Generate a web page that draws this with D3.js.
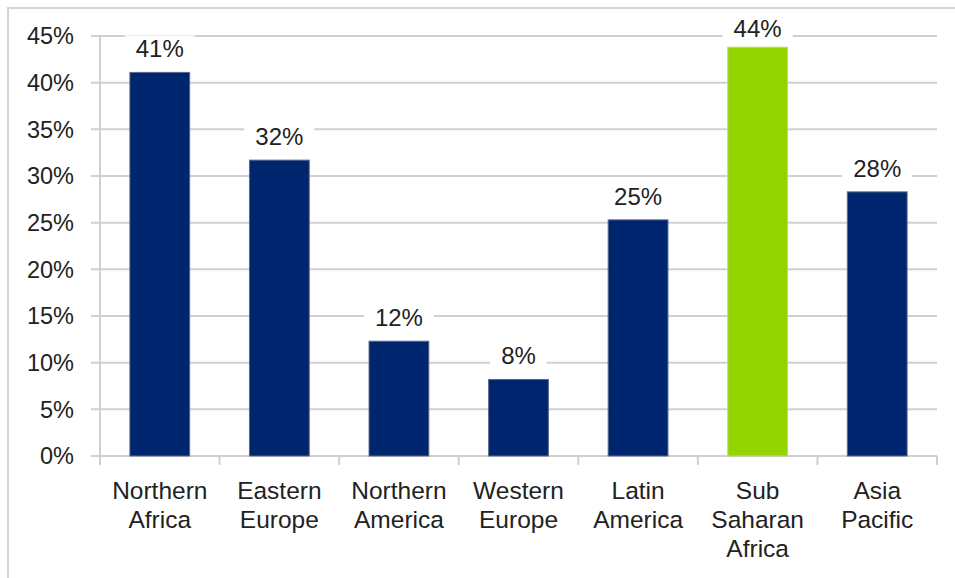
<!DOCTYPE html>
<html><head><meta charset="utf-8">
<script src="https://cdn.jsdelivr.net/npm/d3@7"></script>
<style>body{margin:0;background:#fff;} svg{display:block;font-family:"Liberation Sans",Arial,sans-serif;}</style>
</head><body>
<svg id="c" width="955" height="578"></svg>
<script>
const categories = [["Northern","Africa"],["Eastern","Europe"],["Northern","America"],["Western","Europe"],["Latin","America"],["Sub","Saharan","Africa"],["Asia","Pacific"]];
const values = [41.1, 31.7, 12.3, 8.2, 25.3, 43.8, 28.3];
const valueLabels = ["41%","32%","12%","8%","25%","44%","28%"];
const highlight = [false,false,false,false,false,true,false];
const yTicks = [0,5,10,15,20,25,30,35,40,45];

(function(){
const svg = d3.select("#c");
const pL = 100, pR = 937, pT = 36, pB = 456;
svg.append("rect").attr("x",8).attr("y",8).attr("width",980).attr("height",620)
  .attr("fill","#fff").attr("stroke","#d4d4d4").attr("stroke-width",2);

const x = d3.scaleBand().domain(d3.range(categories.length)).range([pL,pR]).paddingInner(0.5).paddingOuter(0.25);
const y = d3.scaleLinear().domain([0,45]).range([pB,pT]);

svg.append("g").selectAll("line").data(yTicks).join("line")
  .attr("x1",91).attr("x2",pR).attr("y1",d=>y(d)).attr("y2",d=>y(d))
  .attr("stroke","#d0d0d0").attr("stroke-width",2);
svg.append("line").attr("x1",pL).attr("x2",pL).attr("y1",pT).attr("y2",pB+8).attr("stroke","#d0d0d0").attr("stroke-width",2);
const step = (pR-pL)/categories.length;
svg.append("g").selectAll("line").data(d3.range(categories.length+1)).join("line")
  .attr("x1",d=>pL+d*step).attr("x2",d=>pL+d*step).attr("y1",pB).attr("y2",pB+9)
  .attr("stroke","#d0d0d0").attr("stroke-width",2);

svg.append("g").selectAll("text").data(yTicks).join("text")
  .attr("x",74).attr("y",d=>y(d)).attr("dy","0.36em").attr("text-anchor","end")
  .attr("font-size",23.5).attr("fill","#222").text(d=>d+"%");

svg.append("g").selectAll("rect").data(values).join("rect")
  .attr("x",(d,i)=>x(i)).attr("width",x.bandwidth())
  .attr("y",d=>y(d)).attr("height",d=>pB-y(d))
  .attr("fill",(d,i)=>highlight[i]?"#93d500":"#00256f")
  .attr("stroke",(d,i)=>highlight[i]?"#b5e06a":"#5a6a8a").attr("stroke-width",1);

const lg = svg.append("g");
values.forEach((v,i)=>{
  const cx = x(i)+x.bandwidth()/2, by = Math.max(y(v)-15, 37);
  const t = lg.append("text").attr("x",cx).attr("y",by).attr("text-anchor","middle")
    .attr("font-size",24).attr("fill","#222").text(valueLabels[i]);
  const bb = t.node().getBBox();
  lg.insert("rect","text").attr("x",bb.x-11).attr("y",bb.y).attr("width",bb.width+22).attr("height",bb.height).attr("fill","#fff");
});

svg.append("g").selectAll("text").data(categories).join("text")
  .attr("text-anchor","middle").attr("font-size",24.5).attr("fill","#222")
  .attr("transform",(d,i)=>`translate(${x(i)+x.bandwidth()/2},499)`)
  .selectAll("tspan").data(d=>d).join("tspan")
  .attr("x",0).attr("dy",(d,j)=>j===0?0:29).text(d=>d);
})();
</script>
</body></html>
